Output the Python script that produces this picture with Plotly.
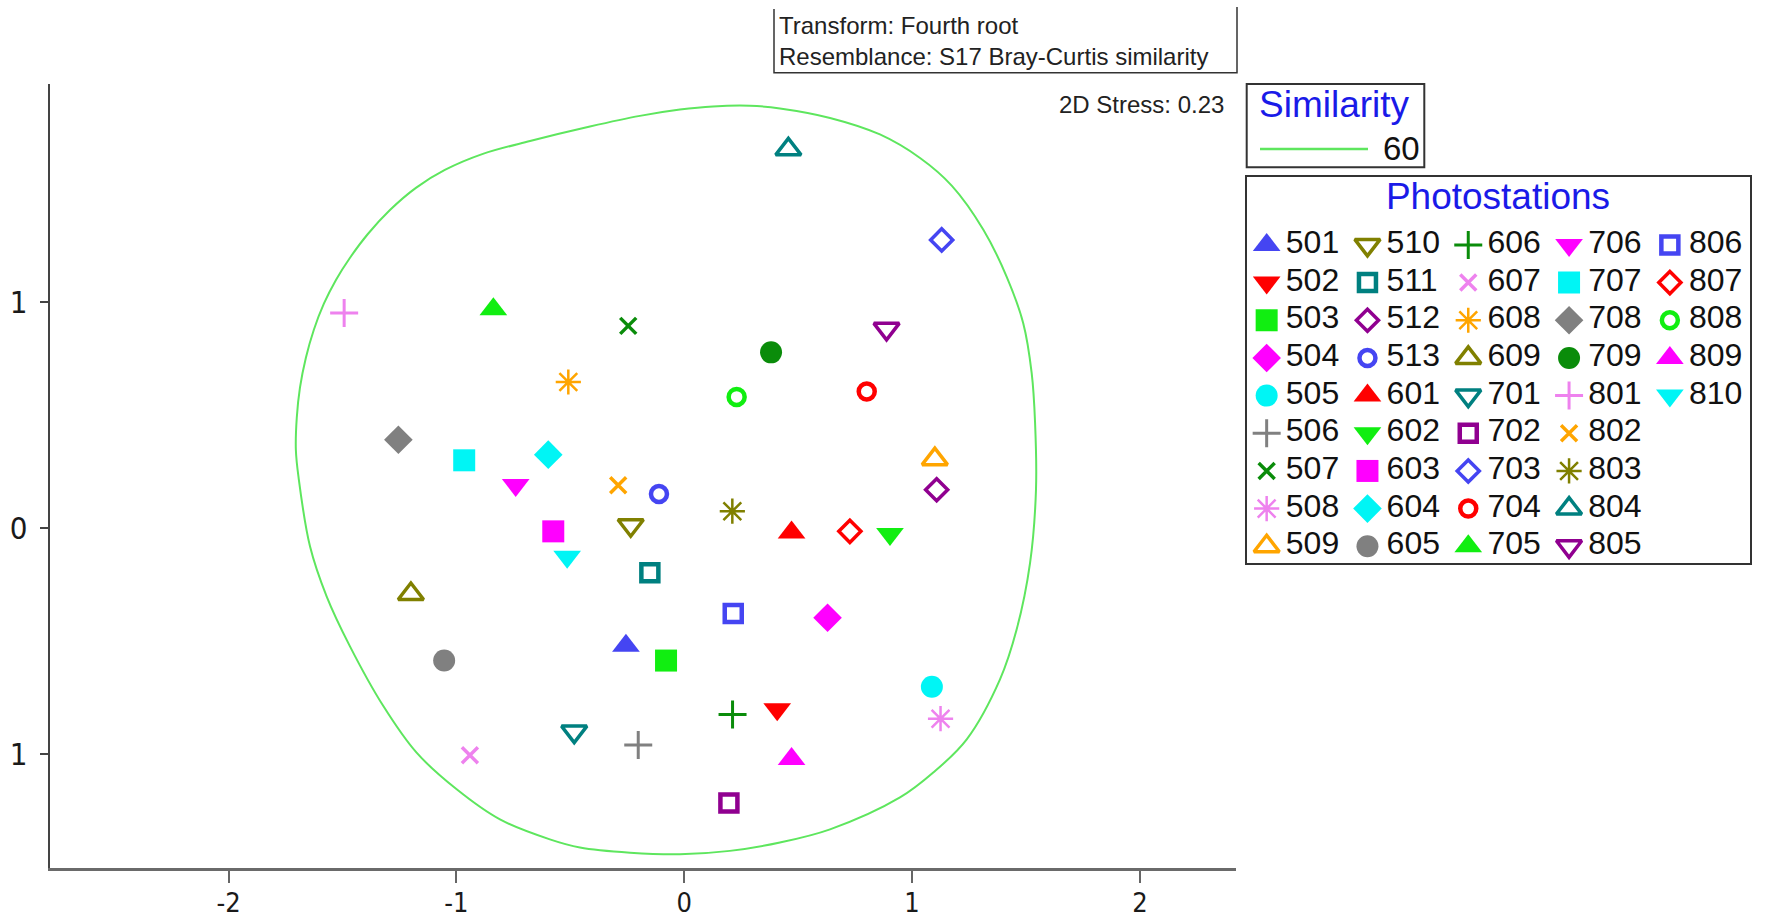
import plotly.graph_objects as go

# Figure fills the window from its top-left corner (the page's default body
# margin is removed after drawing).
W, H = 1767, 918
SY = 1.008  # small vertical calibration so the layout lines up with the reference

# ---------------- data ----------------
stations = ['501', '502', '503', '504', '505', '506', '507', '508', '509',
            '510', '511', '512', '513', '601', '602', '603', '604', '605',
            '606', '607', '608', '609', '701', '702', '703', '704', '705',
            '706', '707', '708', '709', '801', '802', '803', '804', '805',
            '806', '807', '808', '809', '810']
mds_x = [-0.256, 0.408, -0.080, 0.629, 1.087, -0.202, -0.246, 1.125, 1.100,
         -0.235, -0.151, 1.108, -0.111, 0.471, 0.903, -0.575, -0.597, -1.054,
         0.212, -0.941, -0.509, -1.200, -0.483, 0.196, 1.130, 0.801, -0.838,
         -0.740, -0.966, -1.255, 0.381, -1.493, -0.290, 0.211, 0.457, 0.888,
         0.215, 0.727, 0.230, 0.471, -0.514]
mds_y = [-0.520, -0.800, -0.585, -0.396, -0.701, -0.958, 0.894, -0.842, 0.305,
         0.013, -0.197, 0.170, 0.151, -0.019, -0.026, -0.014, 0.325, -0.585,
         -0.823, -1.003, 0.646, -0.291, -0.899, -1.215, 1.274, 0.604, 0.967,
         0.191, 0.300, 0.391, 0.777, 0.951, 0.190, 0.075, 1.674, 0.881,
         -0.377, -0.014, 0.580, -1.020, -0.126]

# 60% similarity contour (clockwise from the top)
contour_x = [0.126, 0.288, 0.420, 0.640, 0.859, 1.035, 1.175, 1.313, 1.415, 1.488,
             1.525, 1.540, 1.544, 1.518, 1.459, 1.386, 1.240, 1.093, 0.947, 0.640,
             0.420, 0.200, -0.019, -0.238, -0.458, -0.590, -0.809, -0.999, -1.175,
             -1.321, -1.468, -1.570, -1.643, -1.693, -1.705, -1.701, -1.687, -1.661,
             -1.626, -1.582, -1.529, -1.468, -1.389, -1.292, -1.178, -1.051, -0.884,
             -0.677, -0.414, -0.195, -0.019, 0.126]
contour_y = [1.864, 1.867, 1.855, 1.813, 1.740, 1.636, 1.513, 1.319, 1.112, 0.906,
             0.686, 0.465, 0.170, -0.153, -0.448, -0.668, -0.933, -1.080, -1.190, -1.331,
             -1.389, -1.426, -1.441, -1.434, -1.411, -1.375, -1.287, -1.154, -0.992,
             -0.786, -0.521, -0.301, -0.080, 0.223, 0.347, 0.488, 0.621, 0.753,
             0.877, 0.992, 1.097, 1.194, 1.300, 1.406, 1.504, 1.583, 1.654,
             1.711, 1.775, 1.822, 1.850, 1.864]
similarity_level = '60'

x_ticks = [-2, -1, 0, 1, 2]
x_ticktext = ['-2', '-1', '0', '1', '2']
y_ticks = [1, 0, -1]
y_ticktext = ['1', '0', '1']

# ---------------- styles ----------------
palette = ['#4545f2', '#ff0000', '#11ee11', '#ff00ff', '#00f5f5', '#808080',
           '#0a8c0a', '#ee82ee', '#ffa500', '#808000', '#008080', '#900090']
symbols = ['triangle-up', 'triangle-down', 'square', 'diamond', 'circle',
           'cross-thin-open', 'x-thin-open', 'asterisk-open',
           'triangle-up-open', 'triangle-down-open', 'square-open',
           'diamond-open', 'circle-open']
sym_size = {'triangle-up': 24, 'triangle-down': 24, 'square': 22, 'diamond': 22,
            'circle': 22, 'cross-thin-open': 20, 'x-thin-open': 16,
            'asterisk-open': 21, 'triangle-up-open': 22, 'triangle-down-open': 22,
            'square-open': 17, 'diamond-open': 17, 'circle-open': 16}
sym_lw = {'cross-thin-open': 3, 'x-thin-open': 3.5, 'asterisk-open': 2.5,
          'triangle-up-open': 3.5, 'triangle-down-open': 3.5, 'square-open': 4.5,
          'diamond-open': 3.5, 'circle-open': 4.5}

FONT = 'Liberation Sans, Arial, sans-serif'
NARROW = 'Liberation Sans Narrow, DejaVu Sans Condensed, Liberation Sans, sans-serif'
BLUE_TITLE = '#1a1ae8'
CONTOUR = '#5ee65e'


def fx(xp):
    return xp / W


def fy(yp):
    return 1 - (yp * SY) / H


fig = go.Figure()

# contour
fig.add_trace(go.Scatter(x=contour_x, y=contour_y, mode='lines',
                         line=dict(color=CONTOUR, width=2, shape='spline', smoothing=1.0),
                         hoverinfo='skip', showlegend=False, xaxis='x', yaxis='y'))


def marker_style(i):
    s = symbols[i % len(symbols)]
    c = palette[i % len(palette)]
    d = dict(symbol=s, size=sym_size[s], color=c)
    if s.endswith('-open'):
        d['line'] = dict(color=c, width=sym_lw[s])
    else:
        d['line'] = dict(width=0)
    return d


# station points
for i, name in enumerate(stations):
    fig.add_trace(go.Scatter(x=[mds_x[i]], y=[mds_y[i]], mode='markers', name=name,
                             marker=marker_style(i), showlegend=False,
                             xaxis='x', yaxis='y'))

# photostation legend drawn on its own small axes (grid of 9 rows)
ROWS = 9
for i, name in enumerate(stations):
    col, row = i // ROWS, i % ROWS
    fig.add_trace(go.Scatter(x=[col], y=[row], mode='markers', marker=marker_style(i),
                             showlegend=False, hoverinfo='skip', xaxis='x3', yaxis='y3'))
fig.add_trace(go.Scatter(x=[i // ROWS + 0.19 for i in range(len(stations))],
                         y=[i % ROWS for i in range(len(stations))],
                         mode='text', text=stations, textposition='middle right',
                         textfont=dict(family=FONT, size=32, color='#111'),
                         showlegend=False, hoverinfo='skip', xaxis='x3', yaxis='y3'))
fig.add_trace(go.Scatter(x=[2.295], y=[-1.19], mode='text', text=['Photostations'],
                         textposition='middle center',
                         textfont=dict(family=FONT, size=37, color=BLUE_TITLE),
                         showlegend=False, hoverinfo='skip', xaxis='x3', yaxis='y3'))

axis_common = dict(showgrid=False, zeroline=False)

fig.update_layout(
    width=W, height=H, margin=dict(l=0, r=0, t=0, b=0),
    plot_bgcolor='white', paper_bgcolor='white',
    font=dict(family=FONT, color='#222'),
    xaxis=dict(domain=[fx(49.6), fx(1236)], range=[-2.786, 2.422],
               tickvals=x_ticks, ticktext=x_ticktext, ticks='outside', ticklen=12,
               tickwidth=2, tickcolor='#666', showline=True, linecolor='#6a6a6a',
               linewidth=3, tickfont=dict(family=NARROW, size=27, color='#1a1a1a'),
               ticklabelstandoff=-3, anchor='y', **axis_common),
    yaxis=dict(domain=[fy(868.3), fy(84.5)], range=[-1.500, 1.961],
               tickvals=y_ticks, ticktext=y_ticktext, ticks='outside', ticklen=8,
               tickwidth=2, tickcolor='#444', showline=True, linecolor='#444',
               linewidth=2, tickfont=dict(family=NARROW, size=31, color='#1a1a1a'),
               anchor='x', ticklabelstandoff=6, **axis_common),
    xaxis3=dict(domain=[fx(1246.7), fx(1750)], range=[-0.198, 4.795], anchor='y3',
                showticklabels=False, ticks='', showline=True, mirror=True,
                linecolor='#333', linewidth=2, **axis_common),
    yaxis3=dict(domain=[fy(563.3), fy(176.7)], range=[8.44, -1.815], anchor='x3',
                showticklabels=False, ticks='', showline=True, mirror=True,
                linecolor='#333', linewidth=2, **axis_common),
)

shapes = [
    # similarity legend box
    dict(type='rect', xref='paper', yref='paper', x0=fx(1246.7), x1=fx(1424.3),
         y0=fy(167.3), y1=fy(84), line=dict(color='#333', width=2)),
    dict(type='line', xref='paper', yref='paper', x0=fx(1260), x1=fx(1368),
         y0=fy(149), y1=fy(149), line=dict(color=CONTOUR, width=2.5)),
    # header box (top cut off)
    dict(type='path', xref='paper', yref='paper',
         path=f'M{fx(774)},{fy(9)} L{fx(774)},{fy(72.7)} L{fx(1237)},{fy(72.7)} L{fx(1237)},{fy(7)}',
         line=dict(color='#333', width=1.5)),
]
fig.update_layout(shapes=shapes)

annotations = [
    dict(text='Similarity', xref='paper', yref='paper', x=fx(1334), y=fy(105),
         xanchor='center', yanchor='middle', showarrow=False,
         font=dict(family=FONT, size=37, color=BLUE_TITLE)),
    dict(text=similarity_level, xref='paper', yref='paper', x=fx(1381), y=fy(149),
         xanchor='left', yanchor='middle', showarrow=False,
         font=dict(family=FONT, size=33, color='#111')),
    dict(text='2D Stress: 0.23', xref='paper', yref='paper', x=fx(1226), y=fy(105),
         xanchor='right', yanchor='middle', showarrow=False,
         font=dict(family=FONT, size=24, color='#222')),
    dict(text='Transform: Fourth root', xref='paper', yref='paper', x=fx(777), y=fy(26),
         xanchor='left', yanchor='middle', showarrow=False,
         font=dict(family=FONT, size=24, color='#222')),
    dict(text='Resemblance: S17 Bray-Curtis similarity', xref='paper', yref='paper',
         x=fx(777), y=fy(57), xanchor='left', yanchor='middle', showarrow=False,
         font=dict(family=FONT, size=24, color='#222')),
]
fig.update_layout(annotations=annotations)

fig.write_html('out.html', config={'displayModeBar': False},
               post_script="document.body.style.margin='0';")
